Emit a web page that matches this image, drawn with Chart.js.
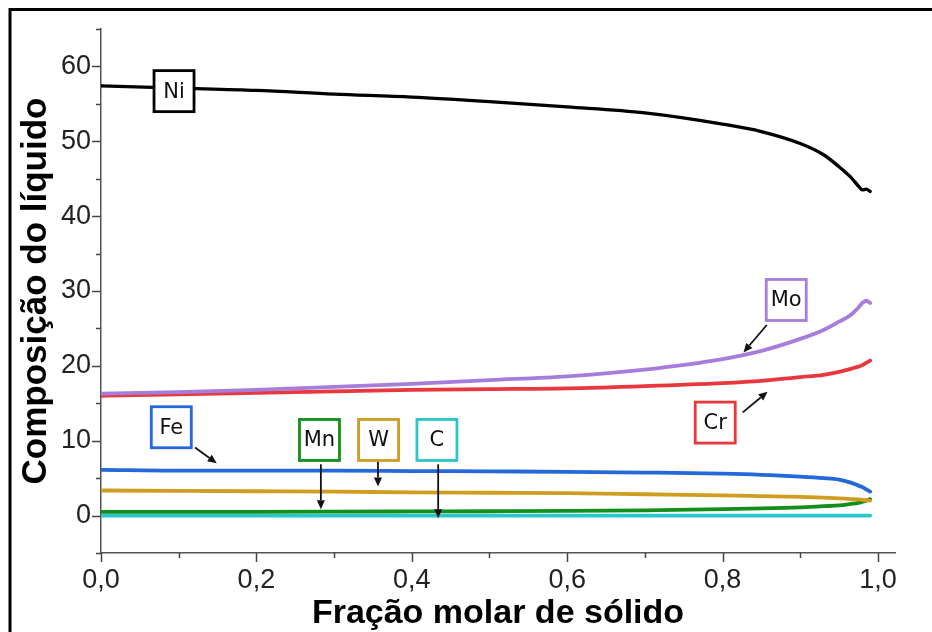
<!DOCTYPE html>
<html>
<head>
<meta charset="utf-8">
<script src="https://cdn.jsdelivr.net/npm/chart.js@4"></script>
<style>
  html, body { margin: 0; padding: 0; background: #fff; }
  #wrap { width: 932px; height: 632px; }
</style>
</head>
<body>
<div id="wrap"><canvas id="c" width="932" height="632"></canvas></div>
<script>
// ---- data ----
const fracSolid = [0, 0.1, 0.2, 0.3, 0.4, 0.5, 0.6, 0.7, 0.8, 0.85, 0.9, 0.93, 0.95, 0.965, 0.975, 0.98, 0.985, 0.99];
const niValues = [57.4, 57.1, 56.8, 56.3, 55.9, 55.3, 54.6, 53.8, 52.3, 51.3, 49.7, 48.2, 46.6, 45.2, 44.0, 43.5, 43.6, 43.3];
const moValues = [16.3, 16.5, 16.8, 17.2, 17.6, 18.1, 18.6, 19.5, 20.9, 22.0, 23.6, 24.8, 25.9, 26.8, 27.8, 28.4, 28.7, 28.4];
const crValues = [16.0, 16.2, 16.4, 16.6, 16.8, 16.9, 17.0, 17.3, 17.7, 18.0, 18.5, 18.8, 19.2, 19.6, 19.9, 20.1, 20.4, 20.7];
const feValues = [6.1, 6.0, 6.0, 6.0, 5.95, 5.9, 5.85, 5.75, 5.6, 5.45, 5.2, 5.0, 4.8, 4.4, 4.0, 3.8, 3.5, 3.2];
const wValues  = [3.35, 3.3, 3.25, 3.2, 3.1, 3.05, 3.0, 2.85, 2.7, 2.6, 2.5, 2.4, 2.3, 2.2, 2.15, 2.1, 2.05, 2.0];
const mnValues = [0.5, 0.5, 0.5, 0.52, 0.55, 0.58, 0.62, 0.7, 0.85, 0.95, 1.1, 1.25, 1.35, 1.55, 1.7, 1.85, 2.0, 2.2];
const cValues  = [0, 0, 0, 0, 0, 0, 0, 0, 0, 0, 0, 0, 0, 0, 0, 0, 0, 0];

const elementNames = ['Ni', 'Mo', 'Cr', 'Fe', 'W', 'Mn', 'C'];
const xTickValues = [0, 0.2, 0.4, 0.6, 0.8, 1.0];
const xTickLabels = ['0,0', '0,2', '0,4', '0,6', '0,8', '1,0'];
const yTickValues = [0, 10, 20, 30, 40, 50, 60];
const yTickLabels = ['0', '10', '20', '30', '40', '50', '60'];
const xTitle = 'Fração molar de sólido';
const yTitle = 'Composição do líquido';

// ---- styling ----
const colors = {
  Ni: '#000000', Mo: '#a67ddb', Cr: '#e8383e', Fe: '#2468da',
  W: '#cf9d1f', Mn: '#138f1c', C: '#2ac6cb'
};
const seriesValues = { Ni: niValues, Mo: moValues, Cr: crValues, Fe: feValues, W: wValues, Mn: mnValues, C: cValues };

// annotation boxes (data coords) and arrows (data coords)
const labelBoxes = [
  { text: 'Ni', x: 0.094, y: 56.7, color: '#000000' },
  { text: 'Mo', x: 0.882, y: 28.8, color: colors.Mo },
  { text: 'Cr', x: 0.7906, y: 12.42, color: colors.Cr },
  { text: 'Fe', x: 0.0905, y: 11.8, color: colors.Fe },
  { text: 'Mn', x: 0.2812, y: 10.1, color: colors.Mn },
  { text: 'W', x: 0.3573, y: 10.1, color: colors.W },
  { text: 'C', x: 0.4324, y: 10.1, color: colors.C }
];
const arrows = [
  { x0: 0.857, y0: 25.46, x1: 0.827, y1: 21.8 },
  { x0: 0.826, y0: 13.79, x1: 0.858, y1: 16.55 },
  { x0: 0.121, y0: 9.08, x1: 0.149, y1: 6.98 },
  { x0: 0.283, y0: 6.85, x1: 0.283, y1: 0.84 },
  { x0: 0.3565, y0: 7.34, x1: 0.3565, y1: 3.87 },
  { x0: 0.434, y0: 6.85, x1: 0.434, y1: -0.36 }
];

const datasets = elementNames.map(name => ({
  label: name,
  data: fracSolid.map((x, i) => ({ x: x, y: seriesValues[name][i] })),
  borderColor: colors[name],
  backgroundColor: colors[name],
  borderWidth: name === 'Ni' ? 3.3 : 3.8,
  pointRadius: 0,
  fill: false,
  cubicInterpolationMode: 'monotone',
  borderCapStyle: 'round',
  borderJoinStyle: 'round'
}));

const annotationPlugin = {
  id: 'annot',
  afterDatasetsDraw(chart) {
    const ctx = chart.ctx;
    const xs = chart.scales.x, ys = chart.scales.y;
    ctx.save();
    // arrows
    ctx.strokeStyle = '#111';
    ctx.fillStyle = '#111';
    ctx.lineWidth = 1.8;
    arrows.forEach(a => {
      const px0 = xs.getPixelForValue(a.x0), py0 = ys.getPixelForValue(a.y0);
      const px1 = xs.getPixelForValue(a.x1), py1 = ys.getPixelForValue(a.y1);
      const ang = Math.atan2(py1 - py0, px1 - px0);
      const hl = 9, hw = 4;
      const bx = px1 - hl * Math.cos(ang), by = py1 - hl * Math.sin(ang);
      ctx.beginPath();
      ctx.moveTo(px0, py0);
      ctx.lineTo(bx, by);
      ctx.stroke();
      ctx.beginPath();
      ctx.moveTo(px1, py1);
      ctx.lineTo(bx + hw * Math.sin(ang), by - hw * Math.cos(ang));
      ctx.lineTo(bx - hw * Math.sin(ang), by + hw * Math.cos(ang));
      ctx.closePath();
      ctx.fill();
    });
    // boxes
    const w = 40, h = 41;
    labelBoxes.forEach(b => {
      const cx = xs.getPixelForValue(b.x), cy = ys.getPixelForValue(b.y);
      ctx.fillStyle = '#fff';
      ctx.fillRect(cx - w / 2, cy - h / 2, w, h);
      ctx.strokeStyle = b.color;
      ctx.lineWidth = 2.8;
      ctx.strokeRect(cx - w / 2, cy - h / 2, w, h);
      ctx.fillStyle = '#111';
      ctx.font = '21px "DejaVu Sans"';
      ctx.textAlign = 'center';
      ctx.textBaseline = 'middle';
      ctx.fillText(b.text, cx, cy + 1);
    });
    ctx.restore();
  },
  afterDraw(chart) {
    const ctx = chart.ctx;
    const xs = chart.scales.x, ys = chart.scales.y;
    const area = chart.chartArea;
    ctx.save();
    // tick marks (major + minor)
    ctx.strokeStyle = '#444';
    ctx.lineWidth = 1.5;
    for (let v = 0; v <= 1.0001; v += 0.1) {
      const px = Math.round(xs.getPixelForValue(v)) + 0.5;
      const major = Math.abs(Math.round(v * 10) % 2) === 0;
      ctx.beginPath();
      ctx.moveTo(px, area.bottom);
      ctx.lineTo(px, area.bottom + (major ? 9 : 5));
      ctx.stroke();
    }
    for (let v = -5; v <= 65; v += 5) {
      const py = Math.round(ys.getPixelForValue(v)) + 0.5;
      const major = v % 10 === 0;
      ctx.beginPath();
      ctx.moveTo(area.left, py);
      ctx.lineTo(area.left - (major ? 9 : 5), py);
      ctx.stroke();
    }
    // outer frame (top and left)
    ctx.strokeStyle = '#000';
    ctx.lineWidth = 3;
    ctx.beginPath();
    ctx.moveTo(10, 640);
    ctx.lineTo(10, 9.5);
    ctx.lineTo(940, 9.5);
    ctx.stroke();
    ctx.restore();
  }
};

new Chart(document.getElementById('c'), {
  type: 'line',
  data: { datasets: datasets },
  plugins: [annotationPlugin],
  options: {
    responsive: false,
    animation: false,
    events: [],
    layout: { padding: { left: 12, right: 37, top: 29, bottom: 0 } },
    plugins: { legend: { display: false }, tooltip: { enabled: false } },
    scales: {
      x: {
        type: 'linear',
        min: 0,
        max: 1.022,
        afterFit(s) { s.height = 79; },
        afterBuildTicks(s) { s.ticks = xTickValues.map(v => ({ value: v })); },
        grid: { display: false, drawTicks: false },
        border: { display: true, color: '#555', width: 1.5 },
        ticks: {
          padding: 11,
          color: '#222',
          font: { family: '"Liberation Sans", Arial, sans-serif', size: 27 },
          maxRotation: 0,
          callback: (v) => { const i = xTickValues.findIndex(t => Math.abs(t - v) < 1e-6); return i >= 0 ? xTickLabels[i] : ''; }
        },
        title: {
          display: true,
          text: xTitle,
          color: '#000',
          font: { family: '"Liberation Sans", Arial, sans-serif', size: 34, weight: 'bold', lineHeight: 1.1 },
          padding: { top: 0, bottom: 0 }
        }
      },
      y: {
        type: 'linear',
        min: -5,
        max: 65,
        afterFit(s) { s.width = 89; },
        afterBuildTicks(s) { s.ticks = yTickValues.map(v => ({ value: v })); },
        grid: { display: false, drawTicks: false },
        border: { display: true, color: '#555', width: 1.5 },
        ticks: {
          padding: 10,
          color: '#222',
          font: { family: '"Liberation Sans", Arial, sans-serif', size: 27 },
          callback: (v) => { const i = yTickValues.indexOf(v); return i >= 0 ? yTickLabels[i] : ''; }
        },
        title: {
          display: true,
          text: yTitle,
          color: '#000',
          font: { family: '"Liberation Sans", Arial, sans-serif', size: 35, weight: 'bold', lineHeight: 1.1 },
          padding: { top: 5, bottom: 0 }
        }
      }
    }
  }
});
</script>
</body>
</html>
